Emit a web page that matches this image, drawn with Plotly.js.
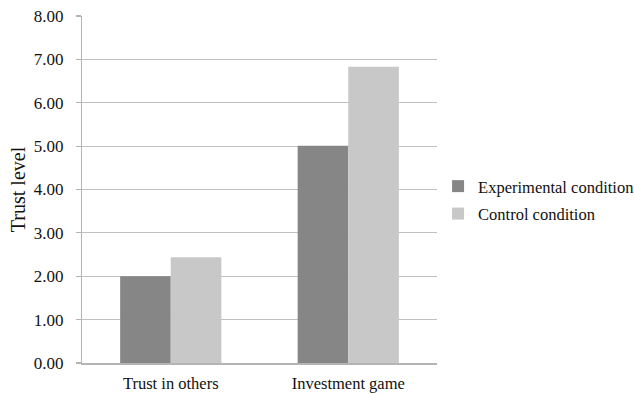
<!DOCTYPE html>
<html>
<head>
<meta charset="utf-8">
<script src="https://cdn.plot.ly/plotly-3.0.1.min.js"></script>
<style>html,body{margin:0;padding:0;background:#fff;}#chart{width:634px;height:394px;}</style>
</head>
<body>
<div id="chart"></div>
<script>
var categories = ["Trust in others", "Investment game"];
var experimental = [2.00, 5.01];
var control = [2.44, 6.83];
var seriesNames = ["Experimental condition", "Control condition"];
var yTicks = [0, 1, 2, 3, 4, 5, 6, 7, 8];
var yTickText = ["0.00", "1.00", "2.00", "3.00", "4.00", "5.00", "6.00", "7.00", "8.00"];

var fam = "Liberation Serif, Times New Roman, serif";
var txt = "#111111";

var data = [
  {type: "bar", x: categories, y: experimental, name: seriesNames[0], legendgroup: "a", marker: {color: "#868686"}},
  {type: "bar", x: categories, y: control, name: seriesNames[1], legendgroup: "b", marker: {color: "#c8c8c8"}}
];

var layout = {
  width: 634, height: 394,
  margin: {l: 82, r: 197, t: 16, b: 31, pad: 0, autoexpand: false},
  paper_bgcolor: "#fff", plot_bgcolor: "#fff",
  font: {family: fam, color: txt, size: 16.5},
  barmode: "group", bargap: 0.43, bargroupgap: 0,
  showlegend: true,
  legend: {x: 1.003, y: 0.47, xanchor: "left", yanchor: "middle",
    font: {family: fam, size: 16.5, color: txt},
    traceorder: "grouped", tracegroupgap: 3, itemwidth: 30, bgcolor: "rgba(0,0,0,0)"},
  xaxis: {
    showline: true, linecolor: "#b4b4b4", linewidth: 1.5, ticks: "", showgrid: false,
    tickfont: {family: fam, size: 16.5, color: txt}, ticklabelstandoff: 5, fixedrange: true
  },
  yaxis: {
    range: [0, 8], tickvals: yTicks, ticktext: yTickText,
    showgrid: true, gridcolor: "#c0c0c0", gridwidth: 1.2,
    showline: true, linecolor: "#b4b4b4", linewidth: 1.2,
    ticks: "outside", ticklen: 5, tickcolor: "#b4b4b4", tickwidth: 1.2,
    zeroline: false, tickfont: {family: fam, size: 17, color: txt}, ticklabelstandoff: 9,
    title: {text: "Trust level", font: {family: fam, size: 20, color: txt}, standoff: 2},
    fixedrange: true
  }
};

Plotly.newPlot("chart", data, layout, {displayModeBar: false, staticPlot: true});
</script>
</body>
</html>
